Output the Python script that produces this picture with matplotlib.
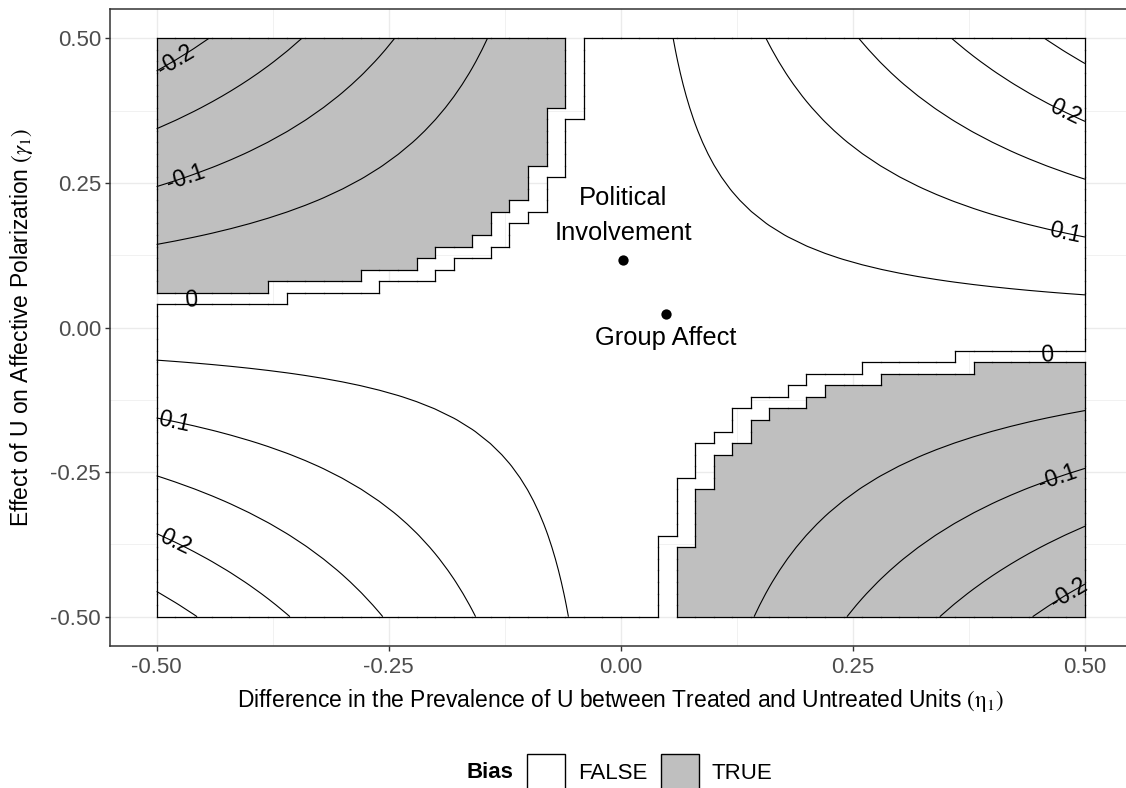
import numpy as np
import matplotlib
matplotlib.use("Agg")
import matplotlib.pyplot as plt
from matplotlib.collections import LineCollection
from matplotlib.colors import ListedColormap
from matplotlib.patches import Patch

# ---------------- data ----------------
eta1 = np.round(np.linspace(-0.5, 0.5, 51), 2)      # difference in prevalence of U (x grid)
gamma1 = np.round(np.linspace(-0.5, 0.5, 51), 2)    # effect of U on affective polarization (y grid)
estimate = 0.0218                                    # observed estimate the bias is added to
contour_levels = [-0.20, -0.15, -0.10, -0.05, 0.05, 0.10, 0.15, 0.20, 0.25]

label_levels = [-0.2, -0.1, 0.0, 0.2, 0.1, 0.0, -0.1, -0.2, 0.1, 0.2]
label_eta = [-0.480, -0.469, -0.463, 0.479, 0.479, 0.459, 0.470, 0.482, -0.481, -0.480]

point_names = ["Political\nInvolvement", "Group Affect"]
point_eta = [0.0024, 0.0487]
point_gamma = [0.117, 0.0228]

legend_title = "Bias"
legend_labels = ["FALSE", "TRUE"]
x_ticks = [-0.50, -0.25, 0.00, 0.25, 0.50]
y_ticks = [-0.50, -0.25, 0.00, 0.25, 0.50]
tick_labels = ["-0.50", "-0.25", "0.00", "0.25", "0.50"]

# ---------------- style ----------------
plt.rcParams["font.family"] = ["Liberation Sans", "DejaVu Sans"]
plt.rcParams["mathtext.fontset"] = "stix"
plt.rcParams["axes.unicode_minus"] = False
plt.rcParams["contour.negative_linestyle"] = "solid"
GREY_FILL = "#BFBFBF"

W, H, DPI = 1126, 788, 100
fig = plt.figure(figsize=(W / DPI, H / DPI), dpi=DPI)
left_px, right_px, top_px, bottom_px = 110.2, 1131.4, 9.4, 645.6
ax = fig.add_axes([left_px / W, 1 - bottom_px / H,
                   (right_px - left_px) / W, (bottom_px - top_px) / H])
ax.set_xlim(-0.55, 0.55)
ax.set_ylim(-0.55, 0.55)

# surface
X, Y = np.meshgrid(eta1, gamma1)
adjusted = X * Y + estimate
bias = adjusted < 0

# cells whose four corners share a class
nb = ~bias
allT = bias[:-1, :-1] & bias[1:, :-1] & bias[:-1, 1:] & bias[1:, 1:]
allF = nb[:-1, :-1] & nb[1:, :-1] & nb[:-1, 1:] & nb[1:, 1:]
C = np.ma.masked_array(np.where(allT, 1.0, 0.0), mask=~(allT | allF))
ax.pcolormesh(eta1, gamma1, C, cmap=ListedColormap(["white", GREY_FILL]),
              vmin=0, vmax=1, shading="flat", zorder=1)


def outline_segments(mask):
    ny, nx = mask.shape
    p = np.pad(mask, 1, constant_values=False)
    segs = []
    for j in range(ny):
        for i in range(nx + 1):
            if p[j + 1, i] != p[j + 1, i + 1]:
                segs.append([(eta1[i], gamma1[j]), (eta1[i], gamma1[j + 1])])
    for j in range(ny + 1):
        for i in range(nx):
            if p[j, i + 1] != p[j + 1, i + 1]:
                segs.append([(eta1[i], gamma1[j]), (eta1[i + 1], gamma1[j])])
    return segs


for m in (allT, allF):
    ax.add_collection(LineCollection(outline_segments(m), colors="black",
                                     linewidths=0.9, capstyle="projecting", zorder=3))

ax.contour(eta1, gamma1, adjusted, levels=contour_levels, colors="black",
           linewidths=0.8, linestyles="solid", zorder=4)

# contour labels
for lev, xe in zip(label_levels, label_eta):
    ye = (lev - estimate) / xe
    slope = -ye / xe
    h = 0.01
    p1 = ax.transData.transform((xe, ye))
    p2 = ax.transData.transform((xe + h, ye + slope * h))
    ang = np.degrees(np.arctan2(p2[1] - p1[1], p2[0] - p1[0]))
    ax.text(xe, ye, f"{lev:g}", rotation=ang, rotation_mode="anchor",
            ha="center", va="center", fontsize=16.5, color="black", zorder=5)

# points and annotations
ax.scatter(point_eta, point_gamma, s=55, color="black", zorder=6, linewidths=0)
offsets = [(0, 32), (0, -17)]
for name, xe, ye, off in zip(point_names, point_eta, point_gamma, offsets):
    ax.annotate(name, (xe, ye), xytext=off, textcoords="offset points",
                ha="center", va="center", fontsize=18.4, linespacing=1.55,
                color="black", zorder=6)

# axes styling (theme_bw)
ax.set_xticks(x_ticks)
ax.set_yticks(y_ticks)
ax.set_xticklabels(tick_labels)
ax.set_yticklabels(tick_labels)
ax.set_xticks([-0.375, -0.125, 0.125, 0.375], minor=True)
ax.set_yticks([-0.375, -0.125, 0.125, 0.375], minor=True)
ax.set_axisbelow(True)
ax.grid(which="major", color="#EBEBEB", linewidth=1.0)
ax.grid(which="minor", color="#EBEBEB", linewidth=0.5)
ax.tick_params(which="minor", length=0)
ax.tick_params(which="major", length=3.6, width=1.0, color="#333333",
               labelcolor="#4D4D4D", labelsize=16)
ax.tick_params(axis="x", pad=4.5)
ax.tick_params(axis="y", pad=3)
for s in ax.spines.values():
    s.set_color("#333333")
    s.set_linewidth(1.1)

ax.set_xlabel(r"Difference in the Prevalence of U between Treated and Untreated Units $(\mathrm{\eta}_1)$",
              fontsize=16.5)
ax.set_ylabel(r"Effect of U on Affective Polarization $(\gamma_1)$", fontsize=16.5)
ax.xaxis.set_label_coords(0.5, -(700 - bottom_px) / (bottom_px - top_px))
ax.xaxis.label.set_va("center")
ax.yaxis.set_label_coords(-(left_px - 22) / (right_px - left_px), 0.5)
ax.yaxis.label.set_va("center")

# legend
handles = [Patch(facecolor="white", edgecolor="black", linewidth=1.0),
           Patch(facecolor=GREY_FILL, edgecolor="black", linewidth=1.0)]
fig.legend(handles, legend_labels, loc="center left",
           bbox_to_anchor=(527 / W, 1 - 772 / H), ncol=2, frameon=False,
           fontsize=16, handlelength=1.7, handleheight=2.15, handletextpad=0.58,
           columnspacing=0.62, borderpad=0, borderaxespad=0)
fig.text(513 / W, 1 - 772 / H, legend_title, ha="right", va="center",
         fontweight="bold", fontsize=16)

fig.savefig("out.png", dpi=DPI)
